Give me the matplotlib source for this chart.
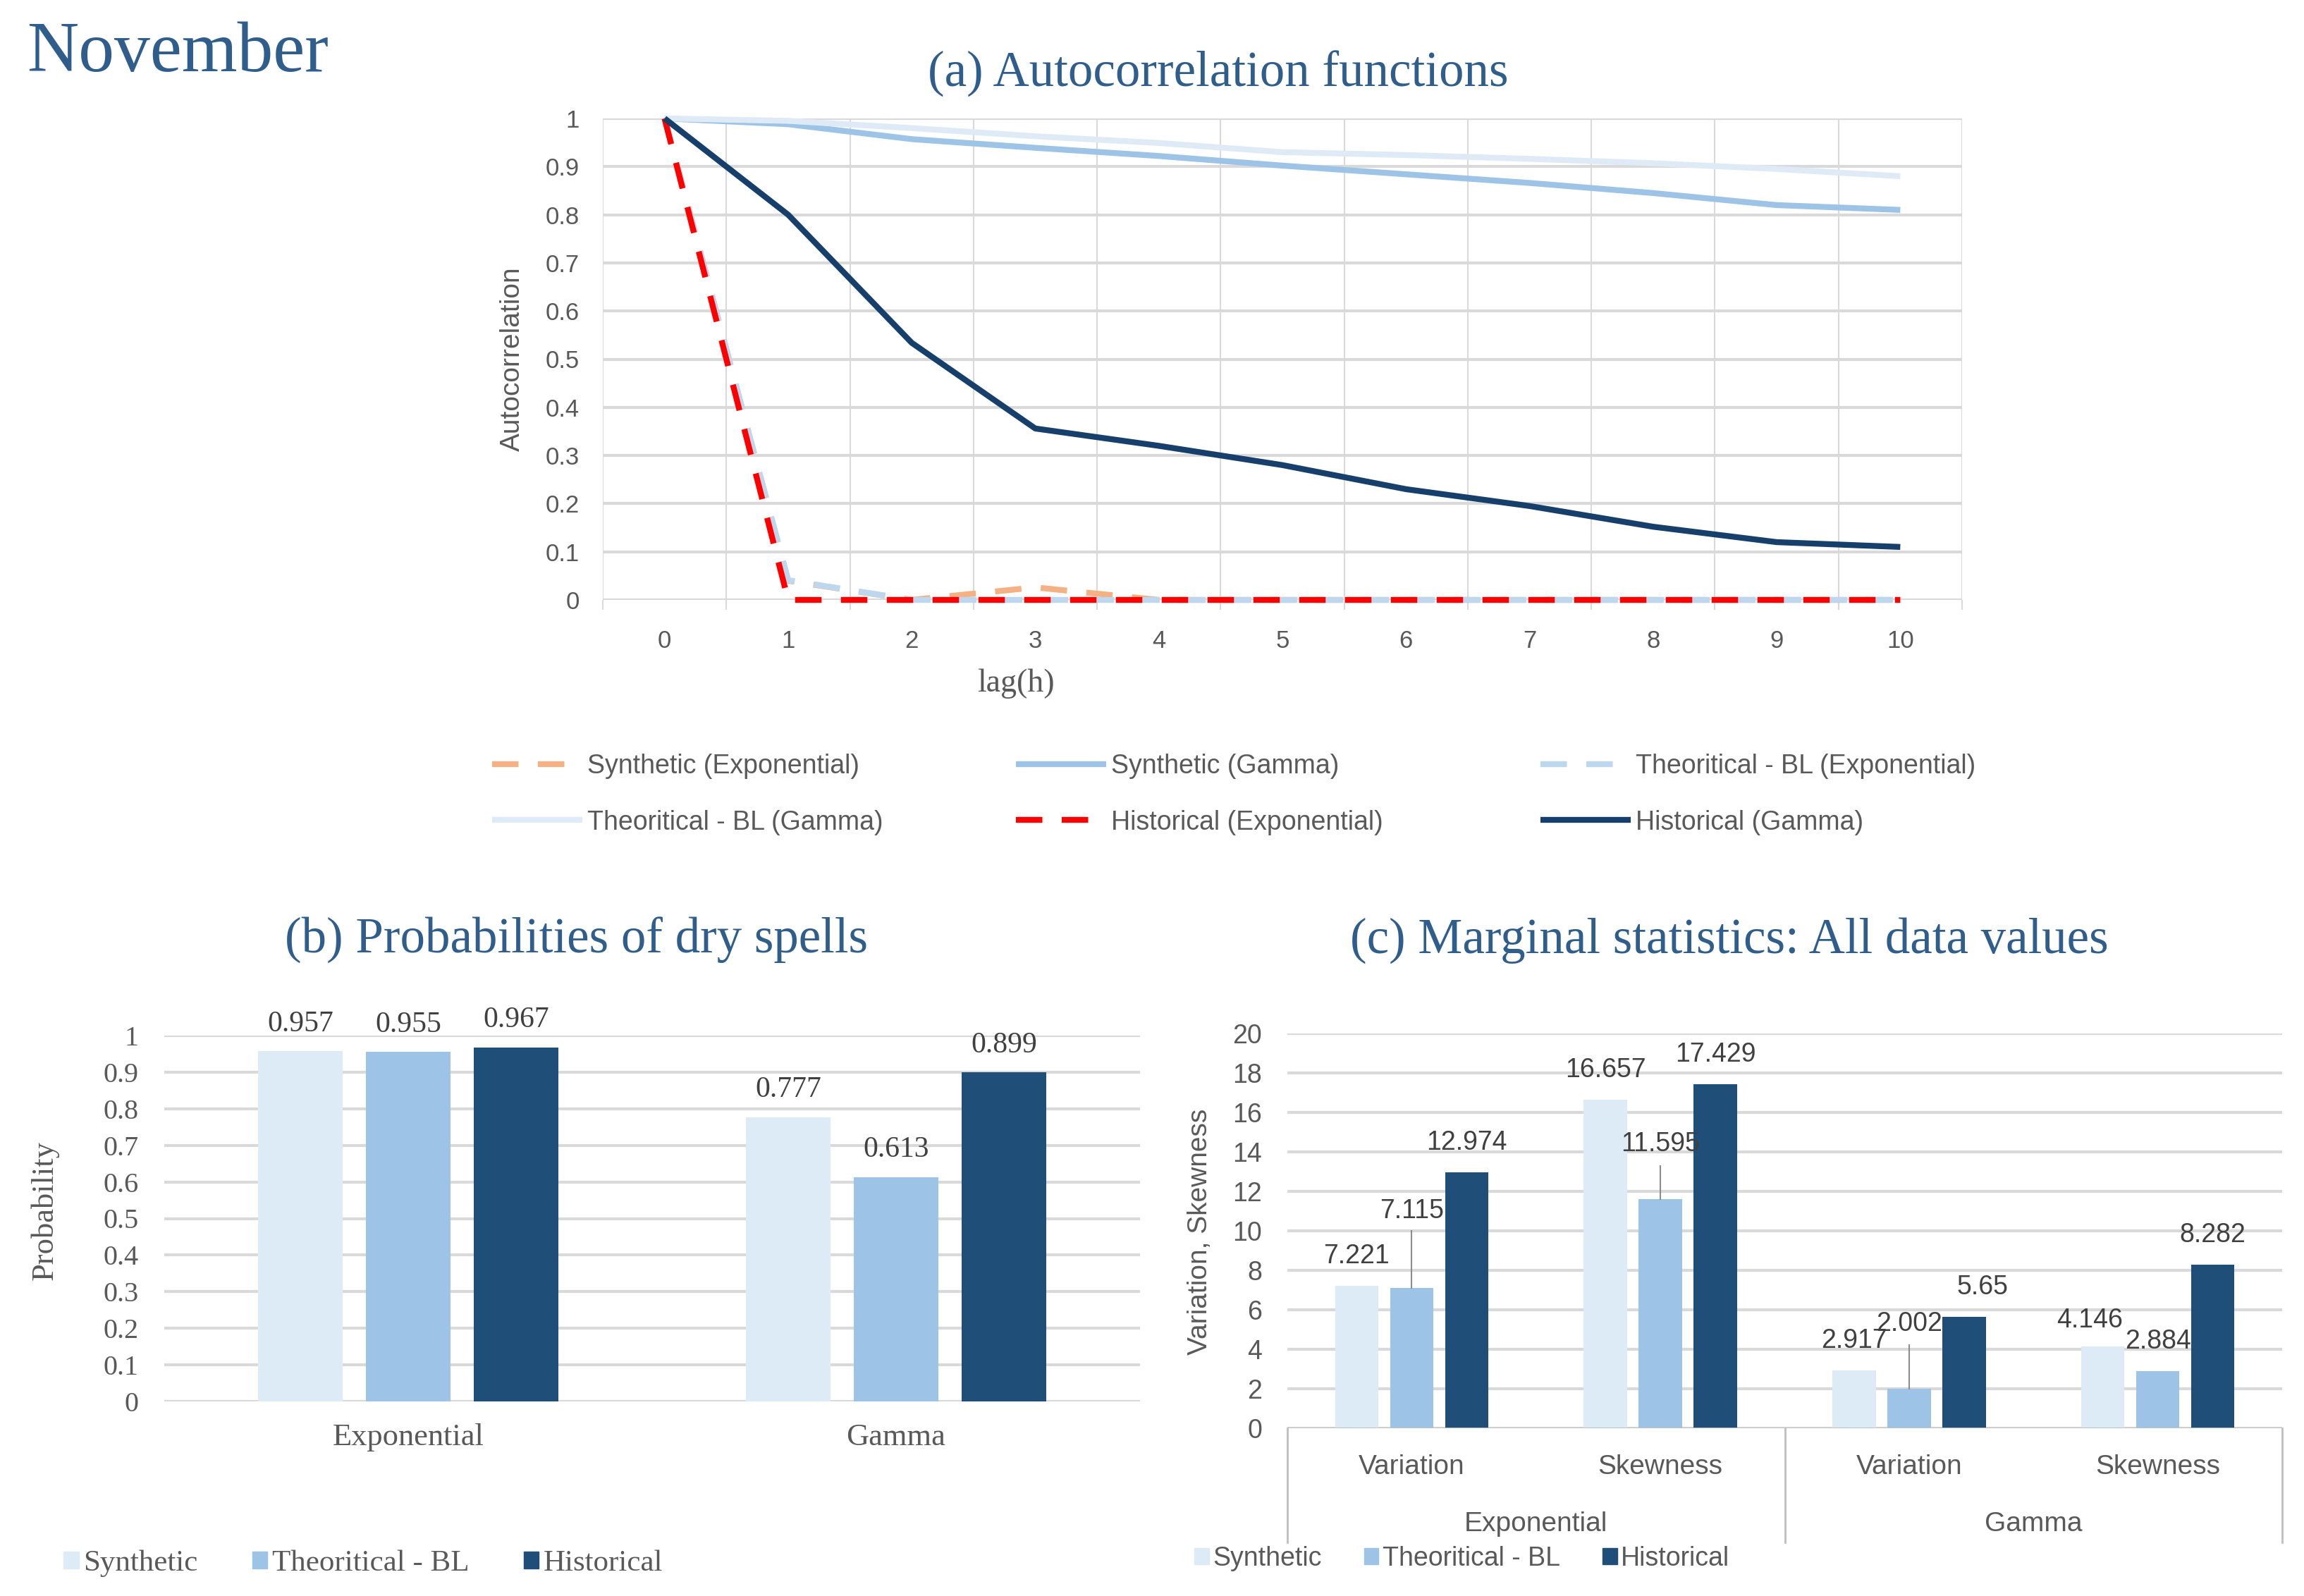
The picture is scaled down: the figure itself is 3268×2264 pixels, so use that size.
import matplotlib.pyplot as plt
from matplotlib.lines import Line2D
from matplotlib.patches import Patch
from matplotlib.ticker import FuncFormatter
import numpy as np

# (a) autocorrelation functions
lags = list(range(11))
synthetic_exp = [1, 0.04, 0.0, 0.026, 0, 0, 0, 0, 0, 0, 0]
synthetic_gamma = [1, 0.988, 0.957, 0.939, 0.922, 0.902, 0.884, 0.866, 0.845, 0.82, 0.81]
theoretical_exp = [1, 0.041, 0.0, 0, 0, 0, 0, 0, 0, 0, 0]
theoretical_gamma = [1, 0.995, 0.98, 0.963, 0.949, 0.93, 0.924, 0.916, 0.907, 0.895, 0.88]
historical_exp = [1, 0, 0, 0, 0, 0, 0, 0, 0, 0, 0]
historical_gamma = [1, 0.80, 0.534, 0.356, 0.32, 0.28, 0.23, 0.195, 0.152, 0.12, 0.11]

# (b) probabilities of dry spells
dist_names = ['Exponential', 'Gamma']
dry_synthetic = [0.957, 0.777]
dry_theoretical = [0.955, 0.613]
dry_historical = [0.967, 0.899]

# (c) marginal statistics
stat_names = ['Variation', 'Skewness', 'Variation', 'Skewness']
stat_groups = ['Exponential', 'Gamma']
marg_synthetic = [7.221, 16.657, 2.917, 4.146]
marg_theoretical = [7.115, 11.595, 2.002, 2.884]
marg_historical = [12.974, 17.429, 5.65, 8.282]

SERIF = 'Liberation Serif'
SANS = 'Liberation Sans'
TITLE_C = '#2F5D8C'
TXT = '#595959'
GRID = '#D9D9D9'
C_SYN, C_THE, C_HIS = '#DDEBF7', '#9DC3E6', '#1F4E79'

W, H = 3268, 2264
fig = plt.figure(figsize=(W / 100, H / 100), dpi=100)


def fx(px):
    return px / W


def fy(py):
    return 1 - py / H


def fmt(v, _=None):
    return '{:g}'.format(round(v, 3))


fig.text(fx(38), fy(77), 'November', family=SERIF, fontsize=73, color=TITLE_C,
         ha='left', va='center')

# ---------------- (a) ----------------
ax = fig.add_axes([fx(855), fy(851), fx(2783 - 855), (851 - 168) / H])
series_a = [
    ('Synthetic (Exponential)', synthetic_exp, '#F4B183', True),
    ('Synthetic (Gamma)', synthetic_gamma, '#9DC3E6', False),
    ('Theoritical - BL (Exponential)', theoretical_exp, '#BDD7EE', True),
    ('Theoritical - BL (Gamma)', theoretical_gamma, '#DEEBF7', False),
    ('Historical (Exponential)', historical_exp, '#FF0000', True),
    ('Historical (Gamma)', historical_gamma, '#173F6B', False),
]
handles = []
for name, vals, col, dashed in series_a:
    kw = dict(color=col, lw=6, solid_capstyle='butt')
    if dashed:
        kw['dashes'] = (4.5, 3.3)
    ax.plot(lags, vals, clip_on=False, zorder=3, **kw)
    handles.append(Line2D([], [], label=name, **kw))

ax.set_xlim(-0.5, 10.5)
ax.set_ylim(0, 1)
ax.set_xticks(lags)
ax.set_xticks(np.arange(-0.5, 11, 1), minor=True)
ax.set_yticks(np.arange(0, 1.01, 0.1))
ax.yaxis.set_major_formatter(FuncFormatter(fmt))
ax.grid(which='minor', axis='x', color=GRID, lw=1.5)
ax.grid(which='major', axis='y', color=GRID, lw=3)
ax.set_axisbelow(True)
ax.tick_params(which='major', length=0, labelsize=25, labelcolor=TXT)
ax.tick_params(axis='x', which='major', pad=30)
ax.tick_params(axis='y', which='major', pad=24)
ax.tick_params(which='minor', axis='x', length=10, width=1.5, color=GRID)
ax.tick_params(which='minor', axis='y', length=0)
for lab in ax.get_xticklabels() + ax.get_yticklabels():
    lab.set_family(SANS)
for s in ax.spines.values():
    s.set_visible(False)

fig.text(fx(1728), fy(105), '(a) Autocorrelation functions', family=SERIF,
         fontsize=51, color=TITLE_C, ha='center', va='center')
fig.text(fx(727), fy(509), 'Autocorrelation', family=SANS, fontsize=28,
         color=TXT, rotation=90, ha='center', va='center')
fig.text(fx(1441), fy(970), 'lag(h)', family=SERIF, fontsize=33,
         color=TXT, ha='center', va='center')

for j, x0 in enumerate([698, 1441, 2185]):
    fig.legend(handles=[handles[j], handles[j + 3]], loc='center left',
               bbox_to_anchor=(fx(x0), fy(1127)), frameon=False,
               prop={'family': SANS, 'size': 27}, labelcolor=TXT,
               handlelength=3.4, handletextpad=0.2, labelspacing=1.15,
               borderpad=0, borderaxespad=0)

# bar offsets shared by (b) and (c)
offs = [-0.221, 0.0, 0.221]
bw = 0.174

# ---------------- (b) ----------------
bx = fig.add_axes([fx(233), fy(1988), fx(1617 - 233), (1988 - 1469) / H])
xb = np.arange(len(dist_names))
for off, vals, col in zip(offs, [dry_synthetic, dry_theoretical, dry_historical],
                          [C_SYN, C_THE, C_HIS]):
    bx.bar(xb + off, vals, width=bw, color=col, zorder=3)
    for xi, v in zip(xb + off, vals):
        bx.annotate(fmt(v), (xi, v), xytext=(0, 28), textcoords='offset points',
                    ha='center', va='center', family=SERIF, fontsize=30,
                    color='#404040')
bx.set_xlim(-0.5, 1.5)
bx.set_ylim(0, 1)
bx.set_yticks(np.arange(0, 1.01, 0.1))
bx.yaxis.set_major_formatter(FuncFormatter(fmt))
bx.set_xticks(xb)
bx.set_xticklabels(dist_names)
bx.grid(axis='y', color=GRID, lw=3)
bx.set_axisbelow(True)
bx.tick_params(length=0, labelcolor=TXT)
bx.tick_params(axis='y', pad=26, labelsize=29)
bx.tick_params(axis='x', pad=22, labelsize=32)
for lab in bx.get_xticklabels() + bx.get_yticklabels():
    lab.set_family(SERIF)
for s in bx.spines.values():
    s.set_visible(False)

fig.text(fx(817), fy(1334), '(b) Probabilities of dry spells', family=SERIF,
         fontsize=51, color=TITLE_C, ha='center', va='center')
fig.text(fx(63), fy(1717), 'Probability', family=SERIF, fontsize=32,
         color=TXT, rotation=90, ha='center', va='center')

bar_handles = [Patch(color=C_SYN, label='Synthetic'),
               Patch(color=C_THE, label='Theoritical - BL'),
               Patch(color=C_HIS, label='Historical')]
fig.legend(handles=bar_handles, loc='center left', bbox_to_anchor=(fx(90), fy(2218)),
           ncol=3, frameon=False, prop={'family': SERIF, 'size': 31}, labelcolor=TXT,
           handlelength=0.5, handleheight=0.5, handletextpad=0.15,
           columnspacing=1.8, borderpad=0, borderaxespad=0)

# ---------------- (c) ----------------
cx = fig.add_axes([fx(1826), fy(2026), fx(3237 - 1826), (2026 - 1466) / H])
xc = np.arange(len(stat_names))
# labels Excel moved by hand: (series, category) -> (x nudge, label y, leader end)
moved = {(1, 0): (0.0, 11.0, 10.0), (1, 1): (0.0, 14.4, 13.3),
         (1, 2): (0.0, 5.3, 4.2), (2, 2): (0.074, None, None),
         (0, 3): (-0.054, 5.45, None)}
for si, (off, vals, col) in enumerate(zip(offs, [marg_synthetic, marg_theoretical,
                                                  marg_historical], [C_SYN, C_THE, C_HIS])):
    cx.bar(xc + off, vals, width=bw, color=col, zorder=3)
    for ci, (xi, v) in enumerate(zip(xc + off, vals)):
        dx, ly, lead = moved.get((si, ci), (0.0, None, None))
        if ly is None:
            ly = v + 1.5
        if lead is not None:
            cx.plot([xi, xi], [v, lead], color='#8C8C8C', lw=1.5, zorder=4)
        cx.text(xi + dx, ly, fmt(v), ha='center', va='center', family=SANS,
                fontsize=27, color='#404040', zorder=5)
cx.set_xlim(-0.5, 3.5)
cx.set_ylim(0, 20)
cx.set_yticks(np.arange(0, 21, 2))
cx.set_xticks([])
cx.grid(axis='y', color=GRID, lw=3)
cx.set_axisbelow(True)
cx.tick_params(length=0, labelcolor=TXT, labelsize=27, pad=26)
for lab in cx.get_yticklabels():
    lab.set_family(SANS)
for s in cx.spines.values():
    s.set_visible(False)
cx.axhline(0, color='#BFBFBF', lw=2, zorder=4)

ch = 2026 - 1466
tr = cx.get_xaxis_transform()
for xv in [-0.5, 1.5, 3.5]:
    cx.plot([xv, xv], [0, -162 / ch], transform=tr, color='#BFBFBF', lw=2,
            clip_on=False)
for xi, name in zip(xc, stat_names):
    cx.text(xi, -55 / ch, name, transform=tr, ha='center', va='center',
            family=SANS, fontsize=28, color=TXT)
for gi, name in enumerate(stat_groups):
    cx.text(2 * gi + 0.5, -136 / ch, name, transform=tr, ha='center', va='center',
            family=SANS, fontsize=28, color=TXT)

fig.text(fx(2453), fy(1334), '(c) Marginal statistics: All data values', family=SERIF,
         fontsize=51, color=TITLE_C, ha='center', va='center')
fig.text(fx(1702), fy(1747), 'Variation, Skewness', family=SANS, fontsize=28,
         color=TXT, rotation=90, ha='center', va='center')
fig.legend(handles=bar_handles, loc='center left', bbox_to_anchor=(fx(1694), fy(2211)),
           ncol=3, frameon=False, prop={'family': SANS, 'size': 27}, labelcolor=TXT,
           handlelength=0.55, handleheight=0.55, handletextpad=0.15,
           columnspacing=1.6, borderpad=0, borderaxespad=0)

fig.savefig('out.png', dpi=100)
